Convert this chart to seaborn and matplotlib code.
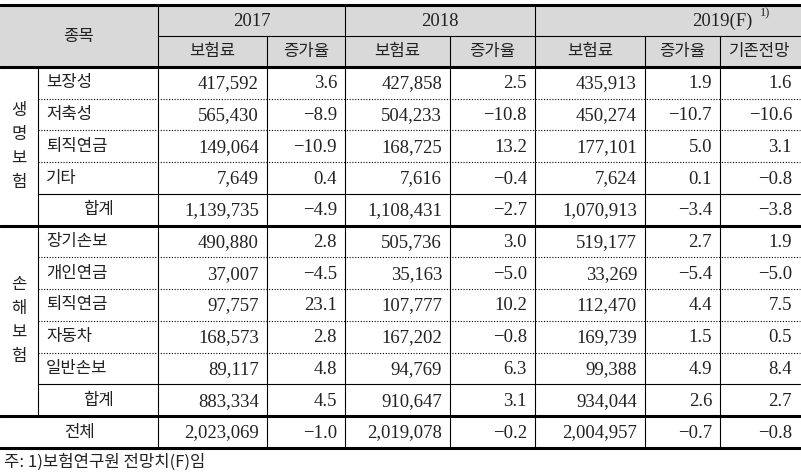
import matplotlib
matplotlib.use("Agg")
import matplotlib.pyplot as plt
import seaborn as sns

sns.set_theme(style="white")
plt.rcParams['font.family'] = ['Noto Sans CJK KR', 'DejaVu Sans']

years = ["2017", "2018", "2019(F)"]
sub_headers = ["보험료", "증가율", "보험료", "증가율", "보험료", "증가율", "기존전망"]
groups = ["생명보험", "손해보험"]
life_items = ["보장성", "저축성", "퇴직연금", "기타", "합계"]
nonlife_items = ["장기손보", "개인연금", "퇴직연금", "자동차", "일반손보", "합계"]

life_values = [
    ["417,592", "3.6", "427,858", "2.5", "435,913", "1.9", "1.6"],
    ["565,430", "−8.9", "504,233", "−10.8", "450,274", "−10.7", "−10.6"],
    ["149,064", "−10.9", "168,725", "13.2", "177,101", "5.0", "3.1"],
    ["7,649", "0.4", "7,616", "−0.4", "7,624", "0.1", "−0.8"],
    ["1,139,735", "−4.9", "1,108,431", "−2.7", "1,070,913", "−3.4", "−3.8"],
]
nonlife_values = [
    ["490,880", "2.8", "505,736", "3.0", "519,177", "2.7", "1.9"],
    ["37,007", "−4.5", "35,163", "−5.0", "33,269", "−5.4", "−5.0"],
    ["97,757", "23.1", "107,777", "10.2", "112,470", "4.4", "7.5"],
    ["168,573", "2.8", "167,202", "−0.8", "169,739", "1.5", "0.5"],
    ["89,117", "4.8", "94,769", "6.3", "99,388", "4.9", "8.4"],
    ["883,334", "4.5", "910,647", "3.1", "934,044", "2.6", "2.7"],
]
total_label = "전체"
total_values = ["2,023,069", "−1.0", "2,019,078", "−0.2", "2,004,957", "−0.7", "−0.8"]
footnote = "주: 1)보험연구원 전망치(F)임"

W, H = 801, 472
fig = plt.figure(figsize=(W / 100, H / 100), dpi=100)
ax = fig.add_axes([0, 0, 1, 1])
ax.set_xlim(0, W)
ax.set_ylim(H, 0)
ax.axis("off")

xs = [0, 38, 158, 267, 345, 450, 535, 645, 720, 800]
top, mid, hbot = 5, 36, 67
total_top = 416
total_bot = 448
rh = (total_top - hbot) / 11
num_font = dict(family=['Liberation Serif', 'DejaVu Serif'], fontsize=13.5, color='#222222')
kr_font = dict(fontsize=12, color='#222222')

# header background
ax.add_patch(plt.Rectangle((0, top), xs[-1], hbot - top, color='#d9d9d9', zorder=0))

def hline(y, x0, x1, lw=0.8, ls='-'):
    ax.plot([x0, x1], [y, y], color='black', lw=lw, ls=ls, zorder=3)

def vline(x, y0, y1, lw=0.8):
    ax.plot([x, x], [y0, y1], color='black', lw=lw, zorder=3)

# header text
ax.text(79, (top + hbot) / 2, "종목", ha='center', va='center', **kr_font)
year_x = [(xs[2] + xs[4]) / 2, (xs[4] + xs[6]) / 2, 722]
for yx, yr in zip(year_x, years):
    ax.text(yx, (top + mid) / 2 + 1, yr, ha='center', va='center', **num_font)
ax.text(760, 13, "1)", ha='left', va='center', family=['Liberation Serif'], fontsize=9)
for j, s in enumerate(sub_headers):
    ax.text((xs[2 + j] + xs[3 + j]) / 2, (mid + hbot) / 2, s, ha='center', va='center', **kr_font)

def draw_rows(items, values, y0):
    for k, (name, vals) in enumerate(zip(items, values)):
        yc = y0 + rh * (k + 0.5)
        if name == "합계":
            ax.text((xs[1] + xs[2]) / 2, yc, name, ha='center', va='center', **kr_font)
        else:
            ax.text(xs[1] + 8, yc, name, ha='left', va='center', **kr_font)
        for j, v in enumerate(vals):
            ax.text(xs[3 + j] - 8, yc + 1, v, ha='right', va='center', **num_font)
        if k > 0:
            if name == "합계":
                hline(y0 + rh * k, xs[1], xs[-1])
            else:
                hline(y0 + rh * k, xs[1], xs[-1], lw=0.8, ls=(0, (1, 1.5)))
    return y0 + rh * len(items)

y = hbot
bounds = []
for g, items, values in [(groups[0], life_items, life_values), (groups[1], nonlife_items, nonlife_values)]:
    y_end = draw_rows(items, values, y)
    n = len(g)
    yc = (y + y_end) / 2
    for c, ch in enumerate(g):
        ax.text(19, yc + (c - (n - 1) / 2) * 24, ch, ha='center', va='center', **kr_font)
    vline(xs[1], y, y_end)
    bounds.append(y_end)
    y = y_end

# total row
yc = (total_top + total_bot) / 2
ax.text((xs[0] + xs[2]) / 2, yc, total_label, ha='center', va='center', **kr_font)
for j, v in enumerate(total_values):
    ax.text(xs[3 + j] - 8, yc + 1, v, ha='right', va='center', **num_font)

# lines
hline(top, 0, xs[-1], lw=2.2)
hline(mid, xs[2], xs[-1])
hline(hbot, 0, xs[-1], lw=2.2)
hline(bounds[0], 0, xs[-1], lw=2.2)
hline(total_top, 0, xs[-1], lw=2.2)
hline(total_bot, 0, xs[-1], lw=2.2)
for x in xs[2:-1]:
    y_start = mid if x in (xs[3], xs[5], xs[7], xs[8]) else top
    vline(x, y_start, total_bot)

ax.text(4, 462, footnote, ha='left', va='center', **kr_font)

fig.savefig("out.png", dpi=100)
